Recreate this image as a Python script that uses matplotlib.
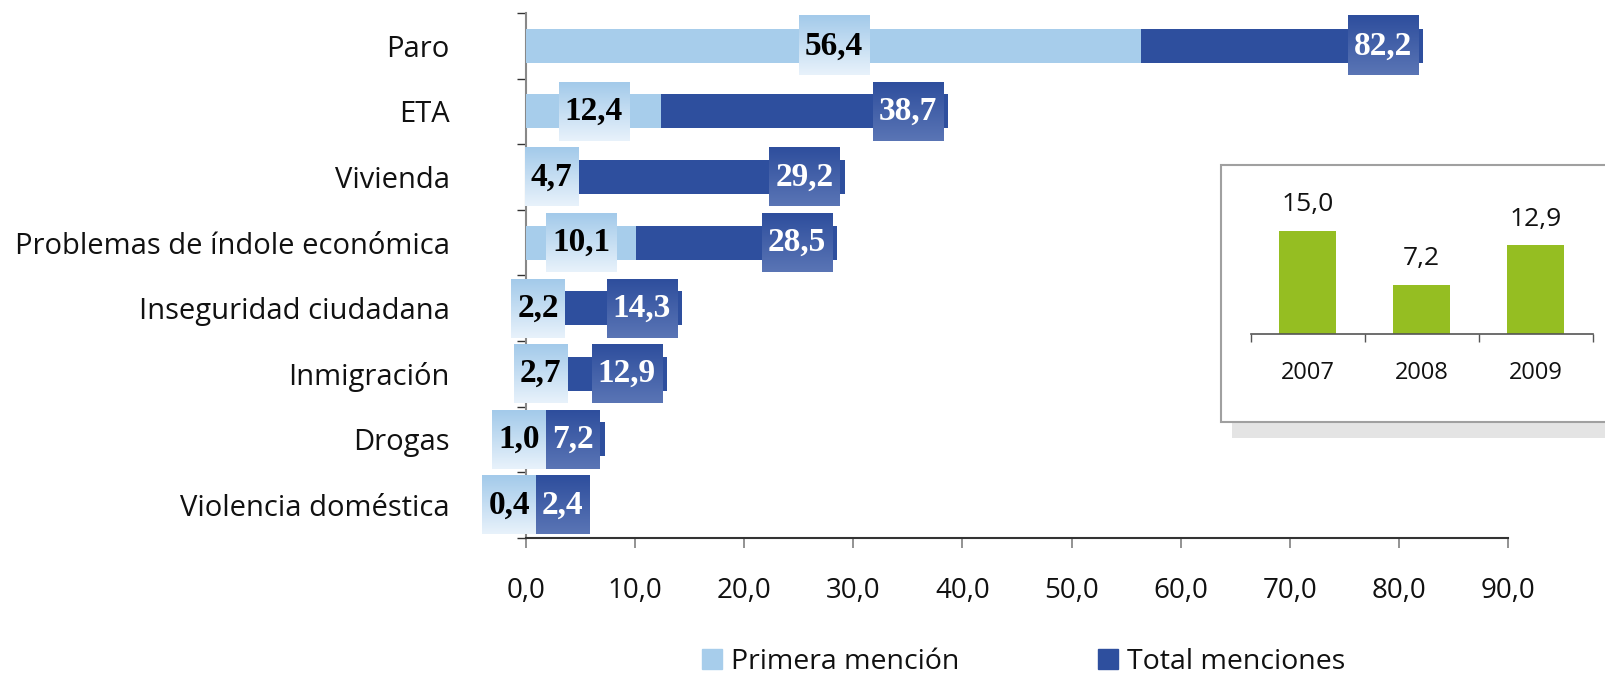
import numpy as np
import matplotlib
matplotlib.use('Agg')
import matplotlib.pyplot as plt
from matplotlib.patches import Rectangle
from matplotlib.lines import Line2D

# ---------------- data ----------------
categories = ["Paro", "ETA", "Vivienda", "Problemas de índole económica",
              "Inseguridad ciudadana", "Inmigración", "Drogas", "Violencia doméstica"]
primera = [56.4, 12.4, 4.7, 10.1, 2.2, 2.7, 1.0, 0.4]
total = [82.2, 38.7, 29.2, 28.5, 14.3, 12.9, 7.2, 2.4]
series_names = ["Primera mención", "Total menciones"]
x_ticks = [0, 10, 20, 30, 40, 50, 60, 70, 80, 90]
years = ["2007", "2008", "2009"]
inset_values = [15.0, 7.2, 12.9]


def fmt(v):
    return f"{v:.1f}".replace('.', ',')


LIGHT = '#A7CDEB'
DARK = '#2E4F9E'
GREEN = '#95BE22'
SANS = ['Open Sans', 'DejaVu Sans']
SERIF = ['Liberation Serif', 'DejaVu Serif']
TXT = '#111111'
plt.rcParams['font.family'] = SANS

W, H = 1606, 677
fig = plt.figure(figsize=(W / 100, H / 100), dpi=100)

# ---------------- main axes ----------------
ax = fig.add_axes([526 / W, 1 - 537.7 / H, 982 / W, 524.7 / H])
y = np.arange(len(categories))
BAR_H = 0.52
ax.barh(y, total, height=BAR_H, color=DARK, zorder=2)
ax.barh(y, primera, height=BAR_H, color=LIGHT, zorder=3)
ax.set_xlim(0, 90)
ax.set_ylim(len(categories) - 0.5, -0.5)
ax.set_xticks(x_ticks)
ax.set_xticklabels([fmt(v) for v in x_ticks])
ax.set_yticks(y)
ax.set_yticklabels(categories)
ax.set_yticks(np.arange(-0.5, len(categories)), minor=True)
ax.tick_params(axis='y', which='major', length=0, pad=55, labelsize=21, labelcolor=TXT)
ax.tick_params(axis='y', which='minor', length=6.5, width=1.0, color='#333333', direction='out')
ax.tick_params(axis='x', which='major', length=7, width=1.2, color='#808080', pad=21,
               labelsize=20, labelcolor=TXT)
for s in ['top', 'right']:
    ax.spines[s].set_visible(False)
ax.spines['left'].set_color('#888888')
ax.spines['left'].set_linewidth(1.5)
ax.spines['bottom'].set_color('#333333')
ax.spines['bottom'].set_linewidth(1.5)
ax.set_facecolor('none')

# ---------------- value labels with gradient boxes ----------------
fig.canvas.draw()
renderer = fig.canvas.get_renderer()
inv = ax.transData.inverted()


def to_px(xd, yd):
    return ax.transData.transform((xd, yd))


def to_data(xp, yp):
    return inv.transform((xp, yp))


def gradient(top, bottom, n=64):
    t = np.linspace(0, 1, n)[:, None]
    top = np.array(matplotlib.colors.to_rgb(top))
    bottom = np.array(matplotlib.colors.to_rgb(bottom))
    g = top[None, :] * (1 - t) + bottom[None, :] * t
    return np.repeat(g[:, None, :], 2, axis=1)


grad_light = gradient('#A3CAEA', '#E8F2FB')
grad_dark = gradient('#2E4E9D', '#5A75B5')
PAD = 6          # px horizontal padding in box
BOX_HALF = 29.5  # px half height of box
END_GAP = 5      # px gap between box and bar end
MAX_SHIFT = 19   # px max left shift of light label


def make_text(v, color):
    return ax.text(0, 0, fmt(v), ha='center', va='center', fontsize=24, fontweight='bold',
                   family=SERIF, color=color, zorder=7)


for i in range(len(categories)):
    cy = to_px(0, y[i])[1]
    tl = make_text(primera[i], 'black')
    td = make_text(total[i], 'white')
    wl = tl.get_window_extent(renderer).width + 2 * PAD
    wd = td.get_window_extent(renderer).width + 2 * PAD
    lc = to_px(primera[i] / 2, 0)[0]
    l0, l1 = lc - wl / 2, lc + wl / 2
    d1 = to_px(total[i], 0)[0] - END_GAP
    d0 = d1 - wd
    if l1 > d0:
        ov = l1 - d0
        sh = min(ov, MAX_SHIFT)
        l0 -= sh
        l1 -= sh
        rest = ov - sh
        d0 += rest
        d1 += rest
    for (x0, x1, t, g) in [(l0, l1, tl, grad_light), (d0, d1, td, grad_dark)]:
        xa, yt = to_data(x0, cy + BOX_HALF)
        xb, yb = to_data(x1, cy - BOX_HALF)
        ax.imshow(g, extent=(xa, xb, yb, yt), origin='upper', aspect='auto',
                  interpolation='bilinear', zorder=6, clip_on=False)
        t.set_position(((xa + xb) / 2, y[i]))

ax.set_xlim(0, 90)
ax.set_ylim(len(categories) - 0.5, -0.5)

# ---------------- legend ----------------
handles = [Line2D([], [], marker='s', ls='none', markersize=15, color=LIGHT),
           Line2D([], [], marker='s', ls='none', markersize=15, color=DARK)]
fig.legend(handles=handles, labels=series_names, loc='center left',
           bbox_to_anchor=(701 / W, 1 - 662 / H),
           ncol=2, frameon=False, fontsize=20.5, handletextpad=0.3, columnspacing=4.85,
           handlelength=0.74, borderpad=0, borderaxespad=0, labelcolor=TXT)

# ---------------- inset ----------------
fig.add_artist(Rectangle((1231.7 / W, 1 - 438 / H), (W - 1231.7) / W, 16 / H,
                         transform=fig.transFigure, facecolor='#E4E4E4', edgecolor='none', zorder=1.5))
fig.add_artist(Rectangle((1220.7 / W, 1 - 422 / H), (W + 4 - 1220.7) / W, (422 - 165) / H,
                         transform=fig.transFigure, facecolor='white', edgecolor='#A0A0A0',
                         linewidth=1.5, zorder=2))
iax = fig.add_axes([1250.7 / W, 1 - 334.3 / H, 342 / W, 169.3 / H], zorder=3)
iax.bar(range(len(years)), inset_values, width=0.5, color=GREEN)
iax.set_xlim(-0.5, len(years) - 0.5)
iax.set_ylim(0, 24.57)
iax.patch.set_alpha(0)
for s in ['top', 'right', 'left']:
    iax.spines[s].set_visible(False)
iax.spines['bottom'].set_color('#555555')
iax.spines['bottom'].set_linewidth(1.2)
iax.set_yticks([])
iax.set_xticks(range(len(years)))
iax.set_xticklabels(years)
iax.set_xticks(np.arange(-0.5, len(years)), minor=True)
iax.tick_params(axis='x', which='major', length=0, pad=19, labelsize=17, labelcolor=TXT)
iax.tick_params(axis='x', which='minor', length=6, width=1.0, color='#555555', direction='out')
for i, v in enumerate(inset_values):
    iax.annotate(fmt(v), (i, v), xytext=(0, 19), textcoords='offset points', ha='center',
                 va='center', fontsize=19, color=TXT)

fig.savefig('out.png', dpi=100)
